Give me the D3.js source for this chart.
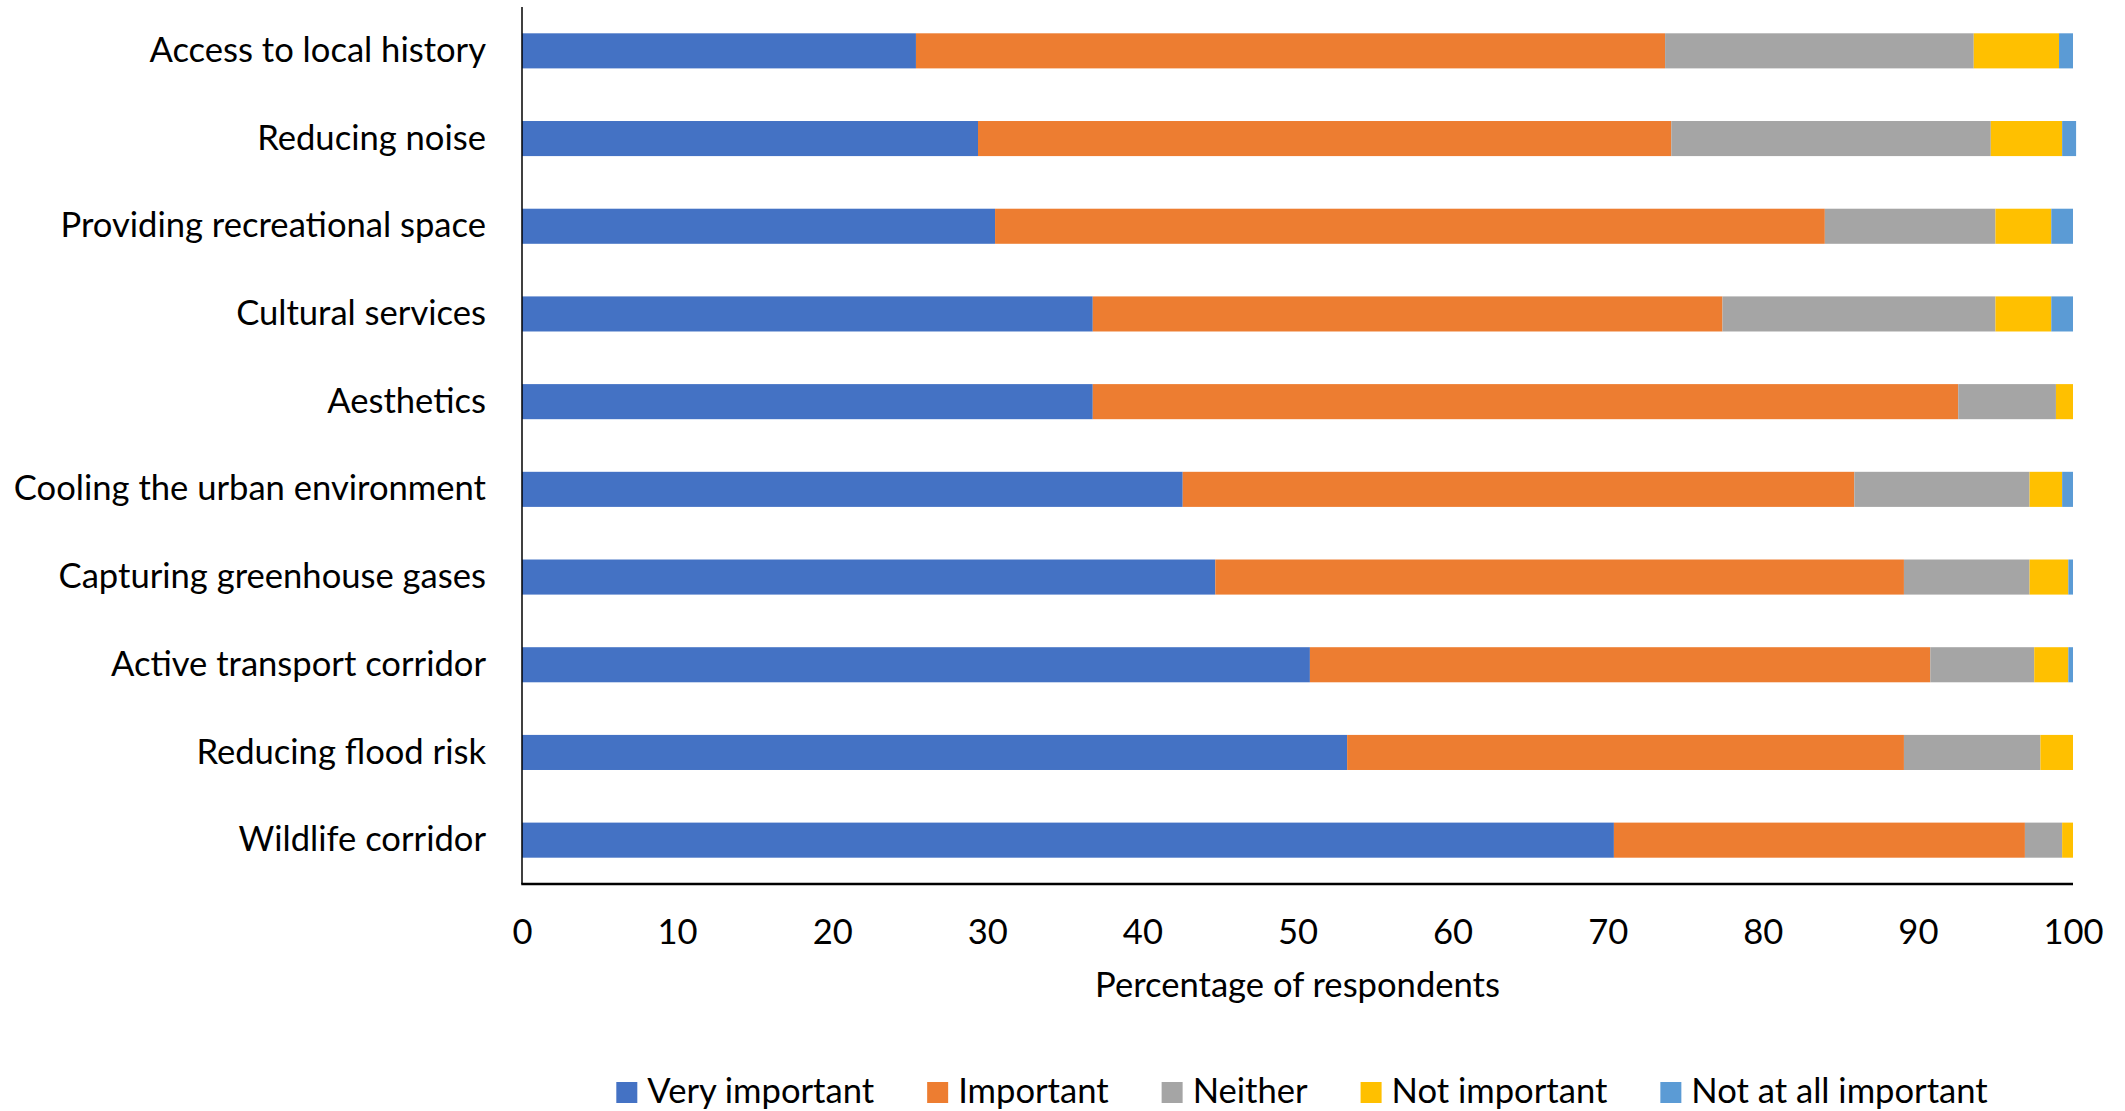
<!DOCTYPE html>
<html>
<head>
<meta charset="utf-8">
<script src="https://cdn.jsdelivr.net/npm/d3@7"></script>
<style>
  html, body { margin: 0; padding: 0; background: #fff; }
  svg { display: block; }
  text { font-family: Lato, "Open Sans", sans-serif; fill: #000; }
</style>
</head>
<body>
<svg id="chart" width="2125" height="1111"></svg>
<script>
const categories = [
  "Access to local history",
  "Reducing noise",
  "Providing recreational space",
  "Cultural services",
  "Aesthetics",
  "Cooling the urban environment",
  "Capturing greenhouse gases",
  "Active transport corridor",
  "Reducing flood risk",
  "Wildlife corridor"
];
const seriesNames = ["Very important", "Important", "Neither", "Not important", "Not at all important"];
const veryImportant = [25.4, 29.4, 30.5, 36.8, 36.8, 42.6, 44.7, 50.8, 53.2, 70.4];
const important     = [48.3, 44.7, 53.5, 40.6, 55.8, 43.3, 44.4, 40.0, 35.9, 26.5];
const neither       = [19.9, 20.6, 11.0, 17.6, 6.3, 11.3, 8.1, 6.7, 8.8, 2.4];
const notImportant  = [5.5, 4.6, 3.6, 3.6, 1.1, 2.1, 2.5, 2.2, 2.1, 0.7];
const notAtAll      = [0.9, 0.9, 1.4, 1.4, 0.0, 0.7, 0.3, 0.3, 0.0, 0.0];
const xTicks = [0, 10, 20, 30, 40, 50, 60, 70, 80, 90, 100];
const xTitle = "Percentage of respondents";
const colors = ["#4472C4", "#ED7D31", "#A5A5A5", "#FFC000", "#5B9BD5"];

(function () {
const seriesValues = [veryImportant, important, neither, notImportant, notAtAll];
const rows = categories.map((c, i) => {
  const r = { category: c };
  seriesNames.forEach((s, k) => r[s] = seriesValues[k][i]);
  return r;
});

const svg = d3.select("#chart");
const FS = 34.6;
const mLeft = 522, mRight = 2073, mTop = 7, mBottom = 884;

const x = d3.scaleLinear().domain([0, 100]).range([mLeft, mRight]);
const y = d3.scaleBand().domain(categories).range([mTop, mBottom]).paddingInner(0.6).paddingOuter(0.3);
const color = d3.scaleOrdinal().domain(seriesNames).range(colors);

const stacked = d3.stack().keys(seriesNames)(rows);

svg.append("g").selectAll("g").data(stacked).join("g")
  .attr("fill", d => color(d.key))
  .selectAll("rect").data(d => d).join("rect")
  .attr("x", d => x(d[0]))
  .attr("y", d => y(d.data.category))
  .attr("width", d => Math.max(0, x(d[1]) - x(d[0])))
  .attr("height", y.bandwidth());

// Left axis (category labels, no ticks)
const yAxis = d3.axisLeft(y).tickSize(0).tickPadding(36);
const gy = svg.append("g").attr("transform", `translate(${mLeft},0)`).call(yAxis);
gy.select(".domain").remove();
gy.selectAll("text").attr("font-size", FS).attr("font-family", "Lato, 'Open Sans', sans-serif").attr("fill", "#000");
svg.append("line").attr("x1", mLeft).attr("x2", mLeft).attr("y1", mTop).attr("y2", mBottom)
  .attr("stroke", "#000").attr("stroke-width", 1.5);

// Bottom axis
const xAxis = d3.axisBottom(x).tickValues(xTicks).tickSize(0).tickPadding(35).tickFormat(d3.format("d"));
const gx = svg.append("g").attr("transform", `translate(0,${mBottom})`).call(xAxis);
gx.select(".domain").remove();
gx.selectAll("text").attr("font-size", FS).attr("font-family", "Lato, 'Open Sans', sans-serif").attr("fill", "#000");
svg.append("line").attr("x1", mLeft - 0.75).attr("x2", mRight).attr("y1", mBottom).attr("y2", mBottom)
  .attr("stroke", "#000").attr("stroke-width", 2.5);

// Axis title
svg.append("text")
  .attr("x", (mLeft + mRight) / 2).attr("y", 997)
  .attr("text-anchor", "middle").attr("font-size", FS)
  .text(xTitle);

// Legend
const legend = svg.append("g");
const sq = 21, gapText = 10, gapItem = 53;
const items = legend.selectAll("g").data(seriesNames).join("g");
items.append("rect").attr("width", sq).attr("height", sq).attr("y", 1082).attr("fill", d => color(d));
items.append("text").attr("x", sq + gapText).attr("y", 1103).attr("font-size", FS).text(d => d);
const widths = [];
items.each(function () { widths.push(sq + gapText + d3.select(this).select("text").node().getComputedTextLength()); });
const total = d3.sum(widths) + gapItem * (widths.length - 1);
let cx = 1302 - total / 2;
items.attr("transform", (d, i) => {
  const t = `translate(${cx},0)`;
  cx += widths[i] + gapItem;
  return t;
});
})();
</script>
</body>
</html>
